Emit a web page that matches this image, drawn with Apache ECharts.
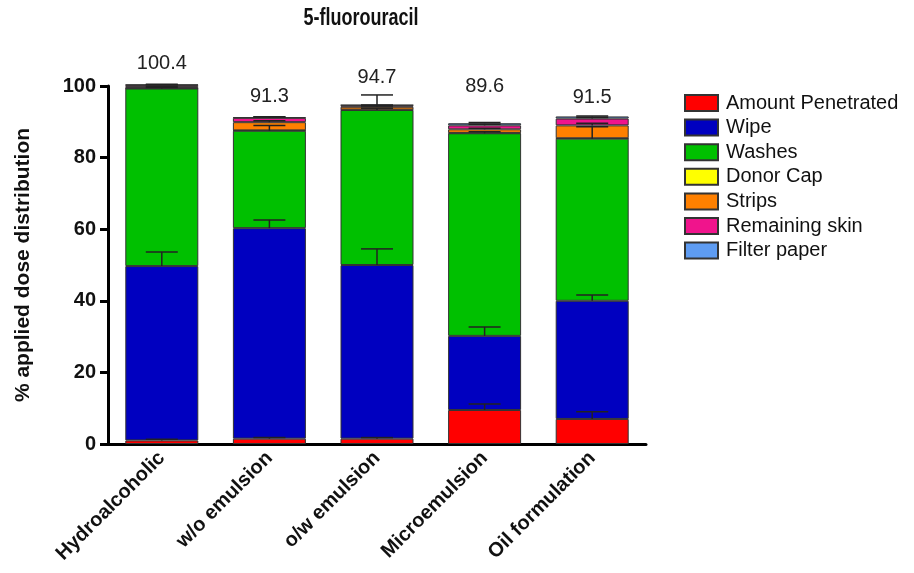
<!DOCTYPE html>
<html>
<head>
<meta charset="utf-8">
<script src="https://cdn.jsdelivr.net/npm/echarts@6/dist/echarts.min.js"></script>
<style>
  html, body { margin: 0; padding: 0; background: #fff; }
  #chart { width: 914px; height: 573px; }
</style>
</head>
<body>
<div id="chart"></div>
<script>
// Formulations on the x axis
const categories = ['Hydroalcoholic', 'w/o emulsion', 'o/w emulsion', 'Microemulsion', 'Oil formulation'];

// Mean % of applied dose recovered in each compartment
const amountPenetrated = [1.0, 1.5, 1.5, 9.5, 7.0];
const wipe             = [48.7, 58.8, 48.5, 20.7, 33.0];
const washes           = [49.6, 27.2, 43.3, 56.6, 45.3];
const donorCap         = [0.05, 0.1, 0.1, 0.1, 0.1];
const strips           = [0.4, 2.3, 0.8, 1.0, 3.6];
const remainingSkin    = [0.5, 1.2, 0.4, 1.1, 1.9];
const filterPaper      = [0.15, 0.2, 0.1, 0.6, 0.6];

// Error (SD) for each compartment
const errPenetrated = [0.3, 0.3, 0.3, 1.7, 2.0];
const errWipe       = [3.9, 2.3, 4.5, 2.5, 1.6];
const errWashes     = [0.3, 1.5, 0.5, 0.4, 3.3];
const errDonorCap   = [0, 0, 0, 0, 0];
const errStrips     = [0.1, 0.4, 0.2, 0.3, 0.6];
const errRemaining  = [0.1, 0.3, 0.1, 0.3, 0.3];
const errFilter     = [0.1, 0.1, 2.8, 0.2, 0.1];

// Total recovery printed above each bar
const totals = [100.4, 91.3, 94.7, 89.6, 91.5];

const yTicks = [0, 20, 40, 60, 80, 100];

const seriesDefs = [
  { name: 'Amount Penetrated', data: amountPenetrated, err: errPenetrated, color: '#FF0000' },
  { name: 'Wipe',              data: wipe,             err: errWipe,       color: '#0000C0' },
  { name: 'Washes',            data: washes,           err: errWashes,     color: '#00C000' },
  { name: 'Donor Cap',         data: donorCap,         err: errDonorCap,   color: '#FFFF00' },
  { name: 'Strips',            data: strips,           err: errStrips,     color: '#FF8000' },
  { name: 'Remaining skin',    data: remainingSkin,    err: errRemaining,  color: '#F0148C' },
  { name: 'Filter paper',      data: filterPaper,      err: errFilter,     color: '#5E9CF2' }
];

// Pixel lift of each total label above its bar
const labelLift = [21, 20, 17, 36, 19];

// Error bar segments: [category, segment top, error]
const errorPoints = [];
const cum = categories.map(() => 0);
seriesDefs.forEach(s => {
  s.data.forEach((v, i) => {
    cum[i] += v;
    if (s.err[i] > 0) errorPoints.push([i, cum[i], s.err[i]]);
  });
});

// Highest point per bar (top of bar or its top error bar)
const topPoints = categories.map((c, i) => {
  let top = 0;
  errorPoints.forEach(p => { if (p[0] === i) top = Math.max(top, p[1] + p[2]); });
  return [i, Math.max(top, totals[i]), totals[i]];
});

const FONT = '"Liberation Sans", Arial, sans-serif';

const barSeries = seriesDefs.map(s => ({
  name: s.name,
  type: 'bar',
  stack: 'total',
  barWidth: 73,
  clip: false,
  data: s.data,
  itemStyle: { color: s.color, borderColor: '#333', borderWidth: 1 },
  emphasis: { disabled: true }
}));

const errorSeries = {
  type: 'custom',
  clip: false,
  z: 10,
  data: errorPoints,
  renderItem: (params, api) => {
    const x = api.value(0);
    const base = api.coord([x, api.value(1)]);
    const tip = api.coord([x, api.value(1) + api.value(2)]);
    const half = 16;
    return {
      type: 'group',
      children: [
        { type: 'line', shape: { x1: base[0], y1: base[1], x2: tip[0], y2: tip[1] },
          style: { stroke: '#222', lineWidth: 1.5 } },
        { type: 'line', shape: { x1: tip[0] - half, y1: tip[1], x2: tip[0] + half, y2: tip[1] },
          style: { stroke: '#222', lineWidth: 1.5 } }
      ]
    };
  }
};

const totalLabelSeries = {
  type: 'custom',
  clip: false,
  z: 11,
  data: topPoints,
  renderItem: (params, api) => {
    const i = api.value(0);
    const p = api.coord([i, api.value(1)]);
    return {
      type: 'text',
      style: {
        x: p[0], y: p[1] - labelLift[i],
        text: api.value(2).toFixed(1),
        fill: '#222',
        font: '20px ' + FONT,
        align: 'center', verticalAlign: 'middle'
      }
    };
  }
};

const chart = echarts.init(document.getElementById('chart'), null, { renderer: 'canvas' });
chart.setOption({
  animation: false,
  backgroundColor: '#fff',
  graphic: [{
    type: 'text',
    x: 361, y: 18,
    scaleX: 0.75,
    style: {
      text: '5-fluorouracil',
      font: 'bold 24px ' + FONT,
      fill: '#111',
      align: 'center', verticalAlign: 'middle'
    }
  }],
  legend: {
    data: seriesDefs.map(s => s.name),
    orient: 'vertical',
    left: 679, top: 88,
    icon: 'rect',
    itemWidth: 33, itemHeight: 16,
    itemGap: 4.6,
    selectedMode: false,
    textStyle: { fontFamily: FONT, fontSize: 20, color: '#111', padding: [0, 0, 0, 3] }
  },
  grid: { left: 108, right: 268, top: 86, bottom: 129, containLabel: false },
  xAxis: {
    type: 'category',
    data: categories,
    axisLine: { lineStyle: { color: '#000', width: 3 } },
    axisTick: { alignWithLabel: true, length: 8, lineStyle: { color: '#000', width: 3 } },
    axisLabel: {
      rotate: 45, interval: 0, margin: 11,
      fontFamily: FONT, fontWeight: 'bold', fontSize: 20, color: '#111'
    }
  },
  yAxis: {
    type: 'value',
    min: 0, max: 100, interval: 20,
    name: '% applied dose distribution',
    nameLocation: 'middle',
    nameGap: 74,
    nameTextStyle: { fontFamily: FONT, fontWeight: 'bold', fontSize: 21, color: '#111' },
    axisLine: { show: true, lineStyle: { color: '#000', width: 3 } },
    axisTick: { show: true, length: 8, lineStyle: { color: '#000', width: 3 } },
    splitLine: { show: false },
    axisLabel: {
      margin: 12,
      fontFamily: FONT, fontWeight: 'bold', fontSize: 20, color: '#111',
      formatter: v => (yTicks.indexOf(v) >= 0 ? String(v) : '')
    }
  },
  series: [...barSeries, errorSeries, totalLabelSeries]
});
</script>
</body>
</html>
